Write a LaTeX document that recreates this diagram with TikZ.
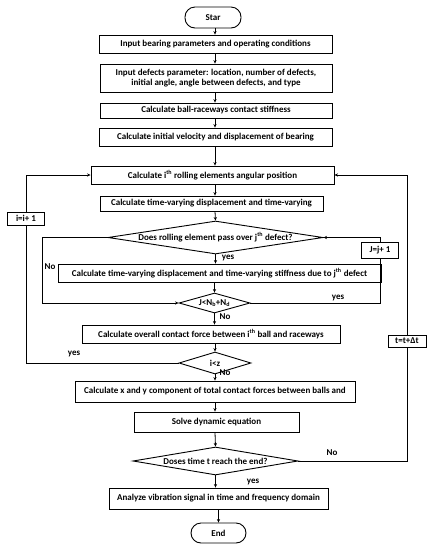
\documentclass[tikz,border=0pt]{standalone}
\usepackage{fontspec}
\setmainfont{Carlito}
\usetikzlibrary{shapes.geometric,arrows.meta}
\begin{document}
\begin{tikzpicture}[x=1pt,y=-1pt,
 txt/.style={font=\bfseries\fontsize{9}{10.6}\selectfont},
 box/.style={draw,line width=0.9pt,inner sep=0pt,align=center,txt},
 term/.style={box,rounded corners=10pt},
 dia/.style={draw,diamond,line width=0.9pt,inner sep=0pt},
 lbl/.style={inner sep=0pt,txt},
 arr/.style={line width=0.8pt,-{Stealth[length=3.5pt,width=3.2pt]}},
 ln/.style={line width=0.8pt}]
\useasboundingbox (0,0) rectangle (434,550);
\coordinate (cx) at (215,0);
\coordinate (nl) at (42,0);

\node[term,minimum width=56pt,minimum height=21pt] (st) at (213,17.5) {Star};
\node[box,minimum width=233pt,minimum height=18pt] (b1) at (215.5,44) {Input bearing parameters and operating conditions};
\node[box,minimum width=232pt,minimum height=28pt] (b2) at (216,78) {Input defects parameter: location, number of defects,\\initial angle, angle between defects, and type};
\node[box,minimum width=232pt,minimum height=15pt] (b3) at (216,110.5) {Calculate ball-raceways contact stiffness};
\node[box,minimum width=233pt,minimum height=18pt] (b4) at (215.5,137) {Calculate initial velocity and displacement of bearing};
\node[box,minimum width=243pt,minimum height=18pt] (b5) at (212.5,175) {Calculate i\textsuperscript{th} rolling elements angular position};
\node[box,minimum width=223pt,minimum height=15pt] (b6) at (211.5,203.5) {Calculate time-varying displacement and time-varying};
\node[dia,minimum width=215pt,minimum height=33pt] (d1) at (215.5,237.5) {};
\node[lbl] (d1t) at (d1) {Does rolling element pass over j\textsuperscript{th} defect?};
\node[box,minimum width=323pt,minimum height=18pt] (b7) at (219.5,273) {Calculate time-varying displacement and time-varying stiffness due to j\textsuperscript{th} defect};
\node[dia,minimum width=71pt,minimum height=20pt] (d2) at (214.5,303) {};
\node[lbl] (d2t) at (d2) {J<N\textsubscript{b}+N\textsubscript{d}};
\node[box,minimum width=258pt,minimum height=18pt] (b8) at (211,334) {Calculate overall contact force between i\textsuperscript{th} ball and raceways};
\node[dia,minimum width=72pt,minimum height=22pt] (d3) at (215,363) {};
\node[lbl] (d3t) at (d3) {i<z};
\node[box,minimum width=280pt,minimum height=21pt] (b9) at (215,391.5) {Calculate x and y component of total contact forces between balls and};
\node[box,minimum width=165pt,minimum height=20pt] (b10) at (216.5,422) {Solve dynamic equation};
\node[dia,minimum width=165pt,minimum height=28pt] (d4) at (215.5,461) {};
\node[lbl] (d4t) at (d4) {Doses time t reach the end?};
\node[box,minimum width=219pt,minimum height=21pt] (b11) at (218.5,498.5) {Analyze vibration signal in time and frequency domain};
\node[term,minimum width=55pt,minimum height=20pt] (en) at (218.5,533) {End};

\node[box,minimum width=37pt,minimum height=13pt] (ib) at (26,218.5) {i=i+ 1};
\node[box,minimum width=37pt,minimum height=16pt] (jb) at (380,250) {J=j+ 1};
\node[box,minimum width=38pt,minimum height=12pt] (tb) at (407,341) {t=t+Δt};

% main column
\draw[arr] (st.south -| cx) -- (b1.north -| cx);
\draw[arr] (b1.south -| cx) -- (b2.north -| cx);
\draw[arr] (b2.south -| cx) -- (b3.north -| cx);
\draw[arr] (b3.south -| cx) -- (b4.north -| cx);
\draw[arr] (b4.south -| cx) -- (b5.north -| cx);
\draw[arr] (b5.south -| cx) -- (b6.north -| cx);
\draw[arr] (b6.south -| cx) -- (d1.north);
\draw[arr] (d1.south) -- (b7.north -| d1.south);
\draw[arr] (b7.south -| d2.north) -- (d2.north);
\draw[arr] (d2.south) -- (b8.north -| d2.south);
\draw[arr] (b8.south -| d3.north) -- (d3.north);
\draw[arr] (d3.south) -- (b9.north -| d3.south);
\draw[arr] (b9.south -| cx) -- (b10.north -| cx);
\draw[arr] (b10.south -| cx) -- (d4.north);
\draw[arr] (d4.south) -- (b11.north -| d4.south);
\draw[arr] (b11.south -| en.north) -- (en.north);

% loops
\draw[arr] (d1.west) -| (nl |- d2.west) -- (d2.west);
\draw[ln] (d2.east) -| (jb.south);
\draw[arr] (jb.north) |- (d1.east);
\draw[ln] (d3.west) -| (ib.south);
\draw[arr] (ib.north) |- (b5.west);
\draw[ln] (d4.east) -| (tb.south);
\draw[arr] (tb.north) |- (b5.east);

% labels
\node[lbl] (l1) at (50,267) {No};
\node[lbl] (l2) at (228,258) {yes};
\node[lbl] (l3) at (338,298) {yes};
\node[lbl] (l4) at (225,317) {No};
\node[lbl] (l5) at (74,354) {yes};
\node[lbl] (l6) at (225,373) {No};
\node[lbl] (l7) at (332,453) {No};
\node[lbl] (l8) at (253,482) {yes};
\end{tikzpicture}
\end{document}
